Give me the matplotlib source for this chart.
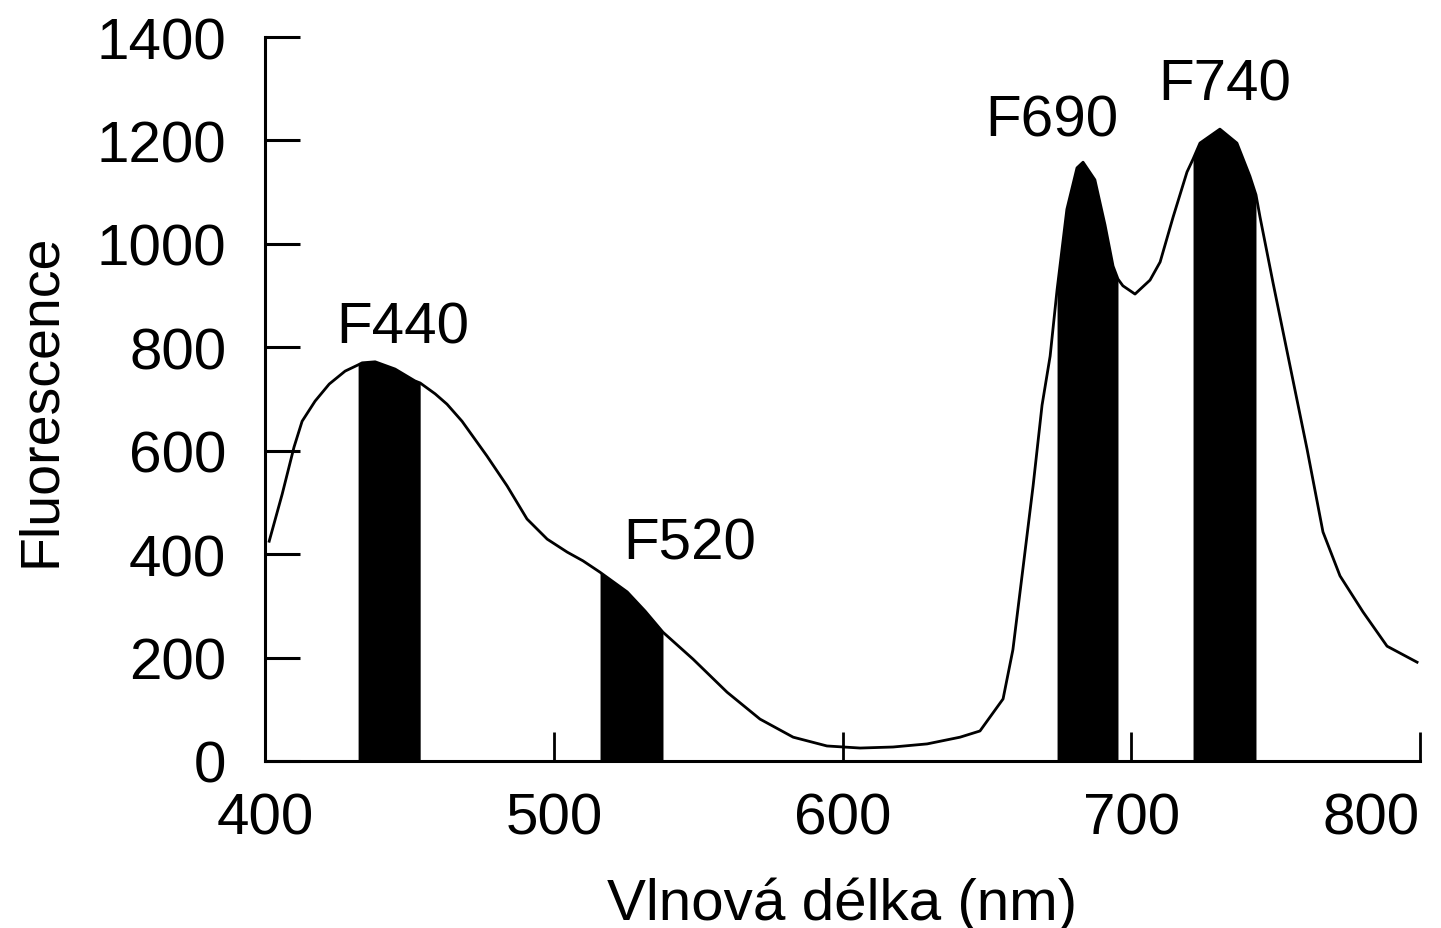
import numpy as np
import matplotlib.pyplot as plt

plt.rcParams['font.family'] = ['Liberation Sans', 'DejaVu Sans']

# spektrum fluorescence
wavelength = [401.4, 405.9, 410.0, 412.8, 417.3, 422.2, 427.7, 432.2, 433.6, 438.1,
              445.0, 451.9, 453.7, 458.9, 463.0, 468.2, 476.8, 483.8, 490.7, 497.7,
              504.6, 510.1, 516.0, 525.4, 531.6, 537.8, 548.2, 560.0, 571.4, 582.9,
              594.6, 606.1, 617.5, 629.3, 640.7, 647.6, 655.6, 659.0, 662.5, 666.0,
              669.1, 671.9, 674.3, 677.7, 681.2, 683.3, 687.4, 690.9, 693.7, 695.4,
              697.1, 701.3, 706.5, 710.0, 714.5, 719.3, 721.4, 723.8, 730.7, 736.6,
              741.1, 743.2, 744.6, 749.1, 755.0, 760.9, 766.4, 772.3, 780.3, 788.6,
              799.0]
fluorescence = [425, 516, 607, 657, 696, 729, 754, 766, 770, 772,
                758, 735, 731, 710, 690, 657, 590, 532, 468, 429,
                404, 387, 365, 327, 290, 249, 197, 133, 81, 46,
                29, 25, 27, 33, 46, 58, 120, 215, 373, 532,
                688, 783, 911, 1067, 1147, 1158, 1124, 1037, 957, 932,
                919, 903, 930, 965, 1052, 1139, 1164, 1195, 1222, 1195,
                1131, 1095, 1052, 925, 764, 603, 443, 358, 288, 222,
                191]

band_names = ["F440", "F520", "F690", "F740"]
band_lo = [432.2, 516.0, 674.3, 721.4]
band_hi = [453.7, 537.8, 695.4, 743.2]
label_x = [447.8, 547.0, 672.6, 732.5]
label_y = [839, 420, 1238, 1309]

x = np.array(wavelength)
y = np.array(fluorescence)

fig = plt.figure(figsize=(14.41, 9.29), dpi=100)
ax = fig.add_axes([0.184, 0.1798, 0.8014, 0.7792])

ax.plot(x, y, color='black', lw=2.0, zorder=3, solid_joinstyle='round')
for lo, hi in zip(band_lo, band_hi):
    m = (x >= lo - 1e-6) & (x <= hi + 1e-6)
    ax.fill_between(x, y, 0, where=m, color='black', lw=0, zorder=2)

for name, lx, ly in zip(band_names, label_x, label_y):
    ax.text(lx, ly, name, fontsize=42, ha='center', va='center')

ax.set_xlim(400, 800)
ax.set_ylim(0, 1400)
ax.set_xticks([400, 500, 600, 700, 800])
ax.set_yticks(range(0, 1401, 200))

ax.spines['top'].set_visible(False)
ax.spines['right'].set_visible(False)
ax.spines['left'].set_linewidth(2.2)
ax.spines['bottom'].set_linewidth(2.2)

ax.tick_params(axis='y', direction='in', length=25, width=2.2, pad=28, labelsize=42)
ax.tick_params(axis='x', direction='in', length=21, width=2.0, pad=22, labelsize=42)
ax.get_xticklabels()[-1].set_horizontalalignment('right')

ax.set_xlabel("Vlnová délka (nm)", fontsize=42, labelpad=22)
ax.set_ylabel("Fluorescence", fontsize=40, labelpad=21)

fig.savefig("out.png", dpi=100)
